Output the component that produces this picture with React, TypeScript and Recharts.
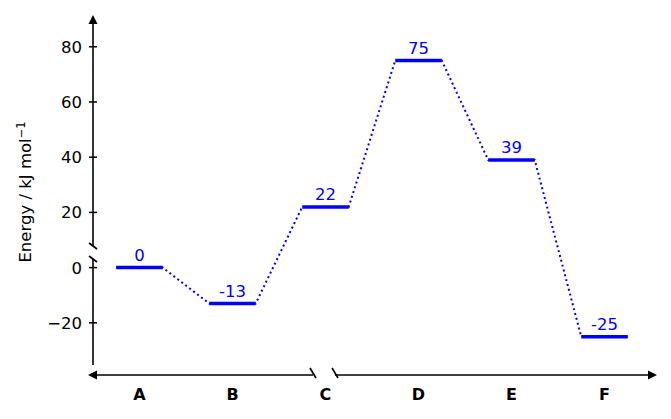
import React from "react";
import { ComposedChart, Line, XAxis, YAxis, LabelList } from "recharts";

const categories = ["A", "B", "C", "D", "E", "F"];
const energies = [0, -13, 22, 75, 39, -25];
const yTicks = [-20, 0, 20, 40, 60, 80];

const W = 671;
const H = 419;
const LEFT = 93;
const TOP = 15;
const RIGHT = 657;
const BOTTOM = 367;
const HALF = 0.25;
const FONT = "'DejaVu Sans', sans-serif";
const BLUE = "#0000ff";

// every level as its own little series: left end, middle, right end
const levels = energies.map((e, i) => [
  { x: i - HALF, e },
  { x: i, e },
  { x: i + HALF, e },
]);
// dotted path running through the ends of all levels
const path = energies.flatMap((e, i) => [
  { x: i - HALF, e },
  { x: i + HALF, e },
]);

const fmt = (v: number) => (v < 0 ? `\u2212${Math.abs(v)}` : `${v}`);

const YTick = (props: any) => {
  const { y, payload } = props;
  return (
    <g>
      <line x1={LEFT - 4} x2={LEFT + 4} y1={y} y2={y} stroke="#000" strokeWidth={1.5} />
      <text x={LEFT - 11} y={y} dy={6} textAnchor="end" fontSize={16.5} fontFamily={FONT} fill="#000">
        {fmt(payload.value)}
      </text>
    </g>
  );
};

const XTick = (props: any) => {
  const { x, payload } = props;
  return (
    <text x={x} y={400} textAnchor="middle" fontSize={16} fontWeight="bold" fontFamily={FONT} fill="#000">
      {categories[payload.value]}
    </text>
  );
};

const ValueLabel = (props: any) => {
  const { x, y, value, index } = props;
  if (index !== 1) return null;
  return (
    <text x={x} y={y - 7} textAnchor="middle" fontSize={16.5} fontFamily={FONT} fill={BLUE}>
      {value}
    </text>
  );
};

const Axes = () => (
  <svg width={W} height={H} style={{ position: "absolute", left: 0, top: 0, pointerEvents: "none" }}>
    <g stroke="#000" strokeWidth={1.6} fill="none">
      <line x1={LEFT} y1={22} x2={LEFT} y2={246} />
      <line x1={LEFT} y1={259} x2={LEFT} y2={BOTTOM - 2} />
      <line x1={LEFT - 4} y1={243} x2={LEFT + 4} y2={249} />
      <line x1={LEFT - 4} y1={256} x2={LEFT + 4} y2={262} />
      <line x1={95} y1={375} x2={313} y2={375} />
      <line x1={335} y1={375} x2={649} y2={375} />
      <line x1={310} y1={368} x2={316} y2={378} />
      <line x1={332} y1={368} x2={338} y2={378} />
    </g>
    <g fill="#000">
      <polygon points={`${LEFT},${TOP} ${LEFT - 4.5},24 ${LEFT + 4.5},24`} />
      <polygon points="88,375 97,370.5 97,379.5" />
      <polygon points="657,375 648,370.5 648,379.5" />
    </g>
    <text
      x={0}
      y={0}
      transform="translate(31,192) rotate(-90)"
      textAnchor="middle"
      fontSize={16.5}
      fontFamily={FONT}
      fill="#000"
    >
      Energy / kJ mol<tspan dy={-6} fontSize={11.5}>{"\u22121"}</tspan>
    </text>
  </svg>
);

export default function App() {
  return (
    <div style={{ position: "fixed", left: 0, top: 0, width: W, height: H, background: "#fff" }}>
      <ComposedChart
        width={W}
        height={H}
        margin={{ top: TOP, right: W - RIGHT, bottom: 22, left: LEFT - 60 }}
      >
        <XAxis
          type="number"
          dataKey="x"
          domain={[-0.5, 5.565]}
          ticks={[0, 1, 2, 3, 4, 5]}
          allowDataOverflow
          axisLine={false}
          tickLine={false}
          height={30}
          tick={<XTick />}
          interval={0}
        />
        <YAxis
          type="number"
          domain={[-36, 91.5]}
          ticks={yTicks}
          allowDataOverflow
          axisLine={false}
          tickLine={false}
          width={60}
          tick={<YTick />}
          interval={0}
        />
        <Line
          data={path}
          dataKey="e"
          stroke={BLUE}
          strokeWidth={2}
          strokeDasharray="2 3"
          dot={false}
          isAnimationActive={false}
        />
        {levels.map((lv, i) => (
          <Line
            key={i}
            data={lv}
            dataKey="e"
            stroke={BLUE}
            strokeWidth={3.5}
            dot={false}
            isAnimationActive={false}
          >
            <LabelList dataKey="e" content={<ValueLabel />} />
          </Line>
        ))}
      </ComposedChart>
      <Axes />
    </div>
  );
}
